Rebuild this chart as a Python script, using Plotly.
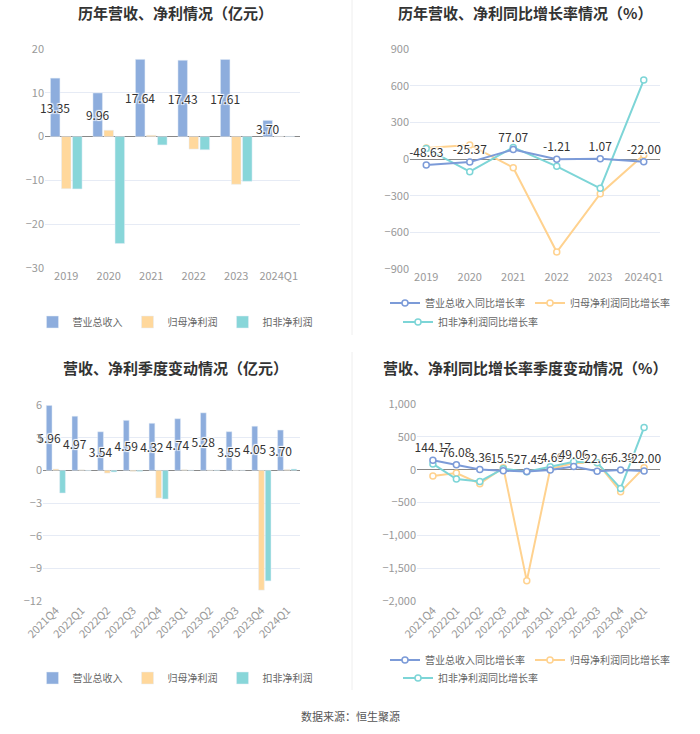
import plotly.graph_objects as go

years = ['2019', '2020', '2021', '2022', '2023', '2024Q1']
rev_year = [13.35, 9.96, 17.64, 17.43, 17.61, 3.70]
np_year = [-11.9, 1.45, 0.3, -2.85, -10.9, 0.08]
np_kf_year = [-11.95, -24.4, -1.9, -3.0, -10.2, 0.05]

rev_year_g = [-48.63, -25.37, 77.07, -1.21, 1.07, -22.00]
np_year_g = [90, 115, -71, -761, -284, 33]
np_kf_year_g = [85, -104, 95, -60, -240, 646]

quarters = ['2021Q4', '2022Q1', '2022Q2', '2022Q3', '2022Q4',
            '2023Q1', '2023Q2', '2023Q3', '2023Q4', '2024Q1']
rev_q = [5.96, 4.97, 3.54, 4.59, 4.32, 4.74, 5.28, 3.55, 4.05, 3.70]
np_q = [0.12, 0.05, -0.25, -0.1, -2.54, 0.06, 0.03, 0.02, -11.0, 0.08]
np_kf_q = [-2.08, -0.03, -0.15, -0.1, -2.63, 0.02, 0.03, 0.01, -10.15, 0.12]

rev_q_g = [144.17, 76.08, 3.36, -15.52, -27.45, -4.69, 49.06, -22.67, -6.39, -22.00]
np_q_g = [-97, -51, -214, 31, -1693, 10, 102, 107, -337, 31]
np_kf_q_g = [87, -143, -179, 15, -31, 46, 122, 107, -286, 643]

FONT = 'Noto Sans CJK SC'
BLUE, ORANGE, TEAL = '#8DADDD', '#FFD89C', '#88D6D9'
LBLUE, LORANGE, LTEAL = '#7C9BD8', '#FFD28F', '#7DD5D7'
HALO = '1px 1px 1px #fff, -1px -1px 1px #fff, 1px -1px 1px #fff, -1px 1px 1px #fff'


def px_x(p):
    return p / 700


def px_y(p):
    return 1 - p / 734


fig = go.Figure()

# --- bar charts
for xa, ya, cats, rev, np_, kf, lg in [
        ('x', 'y', years, rev_year, np_year, np_kf_year, 'legend'),
        ('x3', 'y3', quarters, rev_q, np_q, np_kf_q, 'legend3')]:
    fig.add_trace(go.Bar(x=cats, y=rev, name='营业总收入', marker_color=BLUE,
                         xaxis=xa, yaxis=ya, legend=lg,
                         text=['%.2f' % v for v in rev], textposition='inside',
                         insidetextanchor='middle', textangle=0, constraintext='none',
                         textfont=dict(color='#333', size=12, shadow=HALO),
                         cliponaxis=False))
    fig.add_trace(go.Bar(x=cats, y=np_, name='归母净利润', marker_color=ORANGE,
                         xaxis=xa, yaxis=ya, legend=lg))
    fig.add_trace(go.Bar(x=cats, y=kf, name='扣非净利润', marker_color=TEAL,
                         xaxis=xa, yaxis=ya, legend=lg))

# --- growth line charts (revenue line drawn last so it sits on top)
for xa, ya, cats, rg, ng, kg, lg, lg2 in [
        ('x2', 'y2', years, rev_year_g, np_year_g, np_kf_year_g, 'legend2', 'legend5'),
        ('x4', 'y4', quarters, rev_q_g, np_q_g, np_kf_q_g, 'legend4', 'legend6')]:
    mk = dict(symbol='circle', size=6, color='white', line=dict(width=1.5))
    fig.add_trace(go.Scatter(x=cats, y=ng, name='归母净利润同比增长率', mode='lines+markers',
                             line=dict(color=LORANGE, width=2), marker=dict(mk, line_color=LORANGE),
                             xaxis=xa, yaxis=ya, legend=lg, legendrank=2, cliponaxis=False))
    fig.add_trace(go.Scatter(x=cats, y=kg, name='扣非净利润同比增长率', mode='lines+markers',
                             line=dict(color=LTEAL, width=2), marker=dict(mk, line_color=LTEAL),
                             xaxis=xa, yaxis=ya, legend=lg2, cliponaxis=False))
    fig.add_trace(go.Scatter(x=cats, y=rg, name='营业总收入同比增长率', mode='lines+markers+text',
                             line=dict(color=LBLUE, width=2), marker=dict(mk, line_color=LBLUE),
                             text=['%.2f' % v for v in rg], textposition='top center',
                             textfont=dict(color='#333', size=12, shadow=HALO),
                             xaxis=xa, yaxis=ya, legend=lg, legendrank=1, cliponaxis=False))

ax = dict(showgrid=False, showline=False, ticks='', tickfont=dict(color='#999', size=11),
          zeroline=False, automargin=False)
ay = dict(showgrid=True, gridcolor='#E6EBF5', zeroline=True, zerolinecolor='#888',
          zerolinewidth=1, tickfont=dict(color='#999', size=11), ticks='', showline=False,
          automargin=False)

legend_base = dict(orientation='h', xanchor='center', yanchor='middle',
                   font=dict(size=10, color='#666', family=FONT), bgcolor='rgba(0,0,0,0)',
                   itemwidth=30)

fig.update_layout(
    width=700, height=734, margin=dict(l=0, r=0, t=0, b=0),
    paper_bgcolor='white', plot_bgcolor='white',
    font=dict(family=FONT),
    barmode='group', bargap=0.22, bargroupgap=0.14,
    xaxis=dict(ax, domain=[px_x(45), px_x(300)], anchor='y'),
    yaxis=dict(ay, domain=[px_y(268), px_y(49)], range=[-30, 20], dtick=10, anchor='x'),
    xaxis2=dict(ax, domain=[px_x(410), px_x(660)], anchor='y2'),
    yaxis2=dict(ay, domain=[px_y(269), px_y(49)], range=[-900, 900], dtick=300, anchor='x2'),
    xaxis3=dict(ax, domain=[px_x(43), px_x(300)], anchor='y3', tickangle=-45),
    yaxis3=dict(ay, domain=[px_y(601), px_y(405)], range=[-12, 6], dtick=3, anchor='x3'),
    xaxis4=dict(ax, domain=[px_x(417), px_x(660)], anchor='y4', tickangle=-45),
    yaxis4=dict(ay, domain=[px_y(601), px_y(404)], range=[-2000, 1000], dtick=500,
                tickformat=',', anchor='x4'),
    legend=dict(legend_base, x=px_x(175), y=px_y(322)),
    legend2=dict(legend_base, x=px_x(530), y=px_y(303)),
    legend5=dict(legend_base, xanchor='left', x=px_x(398), y=px_y(322)),
    legend3=dict(legend_base, x=px_x(175), y=px_y(678)),
    legend4=dict(legend_base, x=px_x(530), y=px_y(660)),
    legend6=dict(legend_base, xanchor='left', x=px_x(398), y=px_y(678)),
    showlegend=True,
)

titles = [('历年营收、净利情况（亿元）', 175, 12),
          ('历年营收、净利同比增长率情况（%）', 525, 12),
          ('营收、净利季度变动情况（亿元）', 175, 367),
          ('营收、净利同比增长率季度变动情况（%）', 525, 367)]
for t, x, y in titles:
    fig.add_annotation(text='<b>%s</b>' % t, x=px_x(x), y=px_y(y), xref='paper', yref='paper',
                       xanchor='center', yanchor='middle',
                       showarrow=False, font=dict(size=15, color='#333', family=FONT))

fig.add_annotation(text='数据来源：恒生聚源', x=px_x(350), y=px_y(716), xref='paper', yref='paper',
                   xanchor='center', yanchor='middle',
                   showarrow=False, font=dict(size=11, color='#555', family=FONT))

for y0, y1 in [(0, 335), (352, 690)]:
    fig.add_shape(type='line', xref='paper', yref='paper', x0=px_x(352), x1=px_x(352),
                  y0=px_y(y1), y1=px_y(y0), line=dict(color='#EEEEEE', width=1))

# drop the default body margin so the figure sits at the page's top-left corner
fig.write_html('out.html', config={'displayModeBar': False},
               post_script="document.body.style.margin='0';")
